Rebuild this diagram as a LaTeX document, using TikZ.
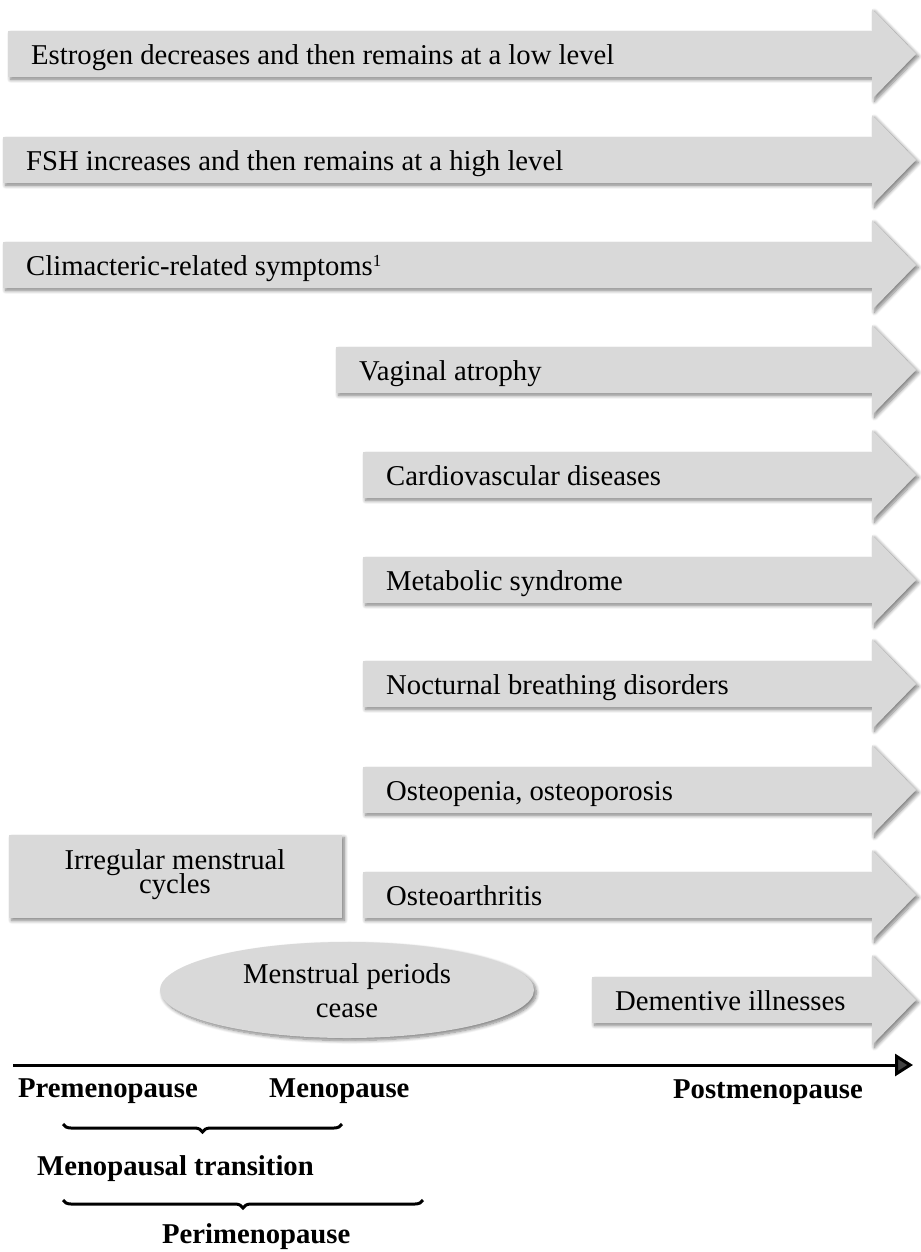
\documentclass[tikz,border=0pt]{standalone}
\usepackage{fontspec}
\setmainfont{Liberation Serif}
\usetikzlibrary{shadows.blur,arrows.meta,decorations.pathreplacing,shapes.geometric}
\definecolor{boxgray}{HTML}{D9D9D9}
\tikzset{
  softshadow/.style={blur shadow={shadow xshift=2.5pt,shadow yshift=-2.5pt,shadow blur steps=8,shadow blur radius=3.5pt,shadow opacity=50}},
  bararrow/.style={fill=boxgray,draw=none,softshadow},
  lbl/.style={anchor=base west,inner sep=0pt,font=\fontsize{28.8}{33}\selectfont},
  clbl/.style={anchor=base,inner sep=0pt,font=\fontsize{28.8}{33}\selectfont},
  blbl/.style={anchor=base west,inner sep=0pt,font=\fontsize{28.8}{33}\selectfont\bfseries},
  bracestyle/.style={line width=3bp,decorate,decoration={brace,mirror,amplitude=8bp}},
  timeline/.style={line width=3bp,-{Triangle[length=18bp,width=22bp]}}
}
\newcommand\barrow[4]{%
  \path[bararrow] (#2,#3-23) -- (872,#3-23) -- (872,#3-45) -- (916,#3) -- (872,#3+45) -- (872,#3+23) -- (#2,#3+23) -- cycle;
  \node[lbl] (#1) at (#2+23,#3+10) {#4};
}
\begin{document}
\begin{tikzpicture}[x=1bp,y=-1bp]
\useasboundingbox (0,0) rectangle (921,1252);
\barrow{estrogen}{8}{54}{Estrogen decreases and then remains at a low level}
\barrow{fsh}{3}{160}{FSH increases and then remains at a high level}
\barrow{clim}{3}{265}{Climacteric-related symptoms\raisebox{9bp}{\fontsize{17}{17}\selectfont 1}}
\barrow{vag}{336}{370}{Vaginal atrophy}
\barrow{cardio}{363}{475}{Cardiovascular diseases}
\barrow{metab}{363}{580}{Metabolic syndrome}
\barrow{noct}{363}{684}{Nocturnal breathing disorders}
\barrow{osteop}{363}{790}{Osteopenia, osteoporosis}
\barrow{osteoa}{363}{895}{Osteoarthritis}
\barrow{dement}{592}{1000}{Dementive illnesses}

\node[fill=boxgray,softshadow,minimum width=333bp,minimum height=83bp,inner sep=0pt] (irr) at (175.5,876.5) {};
\node[clbl] (irrA) at (175,869) {Irregular menstrual};
\node[clbl] (irrB) at (175,893) {cycles};

\node[ellipse,fill=boxgray,softshadow,minimum width=374bp,minimum height=96bp,inner sep=0pt] (ell) at (347,990) {};
\node[clbl] (ellA) at (347,983) {Menstrual periods};
\node[clbl] (ellB) at (347,1017) {cease};

\coordinate (tl0) at (13,1065);
\coordinate (tl1) at (913,1065);
\draw[timeline] (tl0) -- (tl1);

\node[blbl] (pre) at (18,1097) {Premenopause};
\node[blbl] (meno) at (269,1097) {Menopause};
\node[blbl] (post) at (673,1098) {Postmenopause};

\coordinate (b1a) at (63,1124);
\coordinate (b1b) at (342,1124);
\draw[bracestyle] (b1a) -- (b1b);
\node[blbl] (trans) at (37,1175) {Menopausal transition};

\coordinate (b2a) at (63,1200);
\coordinate (b2b) at (423,1200);
\draw[bracestyle] (b2a) -- (b2b);
\node[blbl] (peri) at (162,1243) {Perimenopause};
\end{tikzpicture}
\end{document}
